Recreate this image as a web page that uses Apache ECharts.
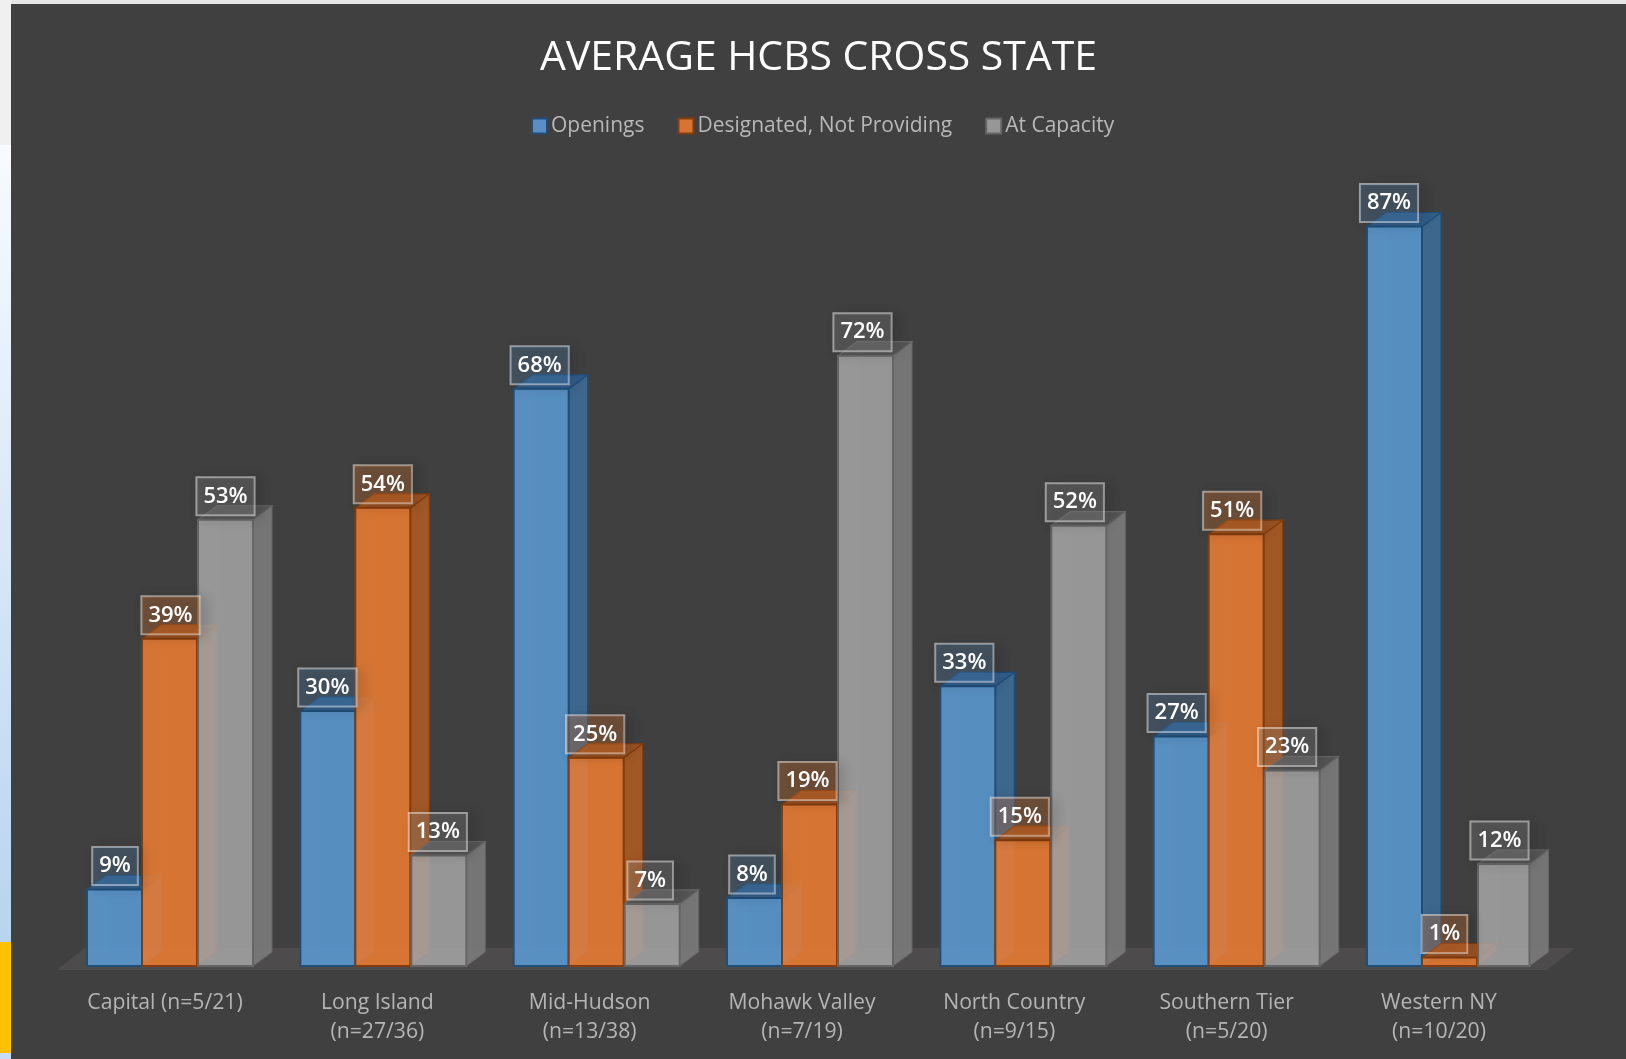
<!DOCTYPE html>
<html>
<head>
<meta charset="utf-8">
<style>html,body{margin:0;padding:0;background:#404040}#c{width:1626px;height:1059px}</style>
<script src="https://cdn.jsdelivr.net/npm/echarts@6/dist/echarts.min.js"></script>
</head>
<body>
<div id="c"></div>
<script>
var categories = ['Capital (n=5/21)', 'Long Island\n(n=27/36)', 'Mid-Hudson\n(n=13/38)', 'Mohawk Valley\n(n=7/19)', 'North Country\n(n=9/15)', 'Southern Tier\n(n=5/20)', 'Western NY\n(n=10/20)'];
var openings = [9, 30, 67.9, 8, 32.9, 27, 87];
var designated = [38.5, 53.9, 24.5, 19, 14.8, 50.8, 1];
var atCapacity = [52.5, 13, 7.3, 71.8, 51.8, 23, 12];

var FONT = '"Open Sans", sans-serif';
var BAR_W = 55, DX = 19, DY = 14, DRIFT = 1.0, LAST_TRIM = 3.5;
var looks = [
  {name: 'Openings', data: openings, front: 'rgba(91,155,213,0.85)', side: 'rgba(62,108,152,0.9)', top: 'rgba(50,96,145,0.9)', line: '#1f4e79', back: 'rgba(91,155,213,0.09)', tag: 'rgba(91,155,213,0.22)', swatch: '#5b8fc4', labelX: -50, shift: 0},
  {name: 'Designated, Not Providing', data: designated, front: 'rgba(237,125,49,0.85)', side: 'rgba(170,90,36,0.95)', top: 'rgba(160,84,34,0.95)', line: '#843c0c', back: 'rgba(237,125,49,0.09)', tag: 'rgba(237,125,49,0.28)', swatch: '#d87433', labelX: 5.5, shift: 0},
  {name: 'At Capacity', data: atCapacity, front: 'rgba(165,165,165,0.85)', side: 'rgba(122,122,122,0.95)', top: 'rgba(86,86,86,0.95)', line: '#666666', back: 'rgba(165,165,165,0.08)', tag: 'rgba(165,165,165,0.22)', swatch: '#979797', labelX: 60.5, shift: 1}
];

function barItem(look, s) {
  return function (params, api) {
    var i = api.value(0);
    var c = api.coord([i, api.value(1)]);
    var b = api.coord([i, 0]);
    var x = c[0] + 4.5 + i * DRIFT - BAR_W * 1.5 + BAR_W * s + look.shift;
    var t = c[1], y0 = b[1];
    var w = BAR_W - (s === 2 && i === 6 ? LAST_TRIM : 0);
    return {
      type: 'group',
      children: [
        {type: 'rect', shape: {x: x + DX, y: t - DY, width: w, height: y0 - t}, style: {fill: look.back, stroke: look.back, lineWidth: 1}},
        {type: 'polygon', shape: {points: [[x, t], [x + DX, t - DY], [x + DX, y0 - DY], [x, y0]]}, style: {fill: 'rgba(255,255,255,0.05)'}},
        {type: 'polygon', shape: {points: [[x, y0], [x + w, y0], [x + w + DX, y0 - DY], [x + DX, y0 - DY]]}, style: {fill: look.back}},
        {type: 'polygon', shape: {points: [[x + w, t], [x + w + DX, t - DY], [x + w + DX, y0 - DY], [x + w, y0]]}, style: {fill: look.side, stroke: look.line, lineWidth: s === 2 ? 1 : 1.2, opacity: 0.95}},
        {type: 'polygon', shape: {points: [[x, t], [x + DX, t - DY], [x + w + DX, t - DY], [x + w, t]]}, style: {fill: look.top, stroke: look.line, lineWidth: 1.2}},
        {type: 'rect', shape: {x: x, y: t, width: w, height: y0 - t}, style: {fill: look.front, stroke: look.line, lineWidth: 2}}
      ]
    };
  };
}

function labelItem(look) {
  return function (params, api) {
    var i = api.value(0);
    var c = api.coord([i, api.value(1)]);
    return {
      type: 'text',
      style: {
        x: c[0] + look.labelX, y: c[1] - 4.5,
        text: Math.round(api.value(1)) + '%',
        align: 'center', verticalAlign: 'bottom',
        fill: '#ffffff', fontFamily: FONT, fontWeight: 600, fontSize: 22, lineHeight: 24,
        backgroundColor: look.tag, borderColor: 'rgba(255,255,255,0.5)', borderWidth: 1,
        padding: [7, 7, 7, 7],
        shadowColor: 'rgba(0,0,0,0.42)', shadowBlur: 12, shadowOffsetX: 5, shadowOffsetY: 2
      }
    };
  };
}

function rows(values) {
  return values.map(function (v, i) { return [i, v]; });
}

var series = [{
  type: 'custom', name: 'floor', silent: true, z: 1, clip: false,
  data: [[0, 0]], encode: {x: 0, y: 1},
  renderItem: function (params) {
    var g = params.coordSys;
    var yb = g.y + g.height + 4;
    var l = g.x - 2, r = g.x + g.width + 2;
    return {type: 'polygon', shape: {points: [[l, yb], [r, yb], [r + 28, yb - 22], [l + 28, yb - 22]]}, style: {fill: '#4d4b4b'}};
  }
}];
looks.forEach(function (look, s) {
  series.push({
    type: 'custom', name: look.name, z: 2 + s, clip: false, silent: true,
    itemStyle: {color: look.swatch, borderColor: look.line, borderWidth: 2},
    data: rows(look.data), encode: {x: 0, y: 1},
    renderItem: barItem(look, s)
  });
});
looks.forEach(function (look) {
  series.push({
    type: 'custom', name: look.name + ' labels', z: 20, clip: false, silent: true,
    data: rows(look.data), encode: {x: 0, y: 1},
    renderItem: labelItem(look)
  });
});

var chart = echarts.init(document.getElementById('c'), null, {renderer: 'canvas'});
chart.setOption({
  animation: false,
  backgroundColor: '#404040',
  title: {
    text: 'AVERAGE HCBS CROSS STATE', left: 813.5, textAlign: 'center', top: 33,
    textStyle: {color: '#ffffff', fontFamily: FONT, fontWeight: 400, fontSize: 40.9}
  },
  legend: {
    top: 110.5, left: 526, itemWidth: 15, itemHeight: 15, itemGap: 33,
    textStyle: {color: '#b8b8b8', fontFamily: FONT, fontSize: 21, padding: [0, 0, 0, -1]},
    data: looks.map(function (l) {
      return {name: l.name, icon: 'rect', itemStyle: {color: l.swatch, borderColor: l.line, borderWidth: 2}};
    })
  },
  grid: {left: 58.85, width: 1486.3, top: 116, bottom: 93},
  xAxis: {
    type: 'category', data: categories,
    axisLine: {show: false}, axisTick: {show: false},
    axisLabel: {color: '#b5b5b5', fontFamily: FONT, fontSize: 21.2, lineHeight: 29, margin: 22, interval: 0}
  },
  yAxis: {type: 'value', min: 0, max: 100, show: false},
  graphic: [
    {type: 'rect', z: 100, shape: {x: 0, y: 0, width: 1626, height: 4}, style: {fill: '#e6e6e6'}},
    {type: 'rect', z: 100, shape: {x: 0, y: 0, width: 11, height: 145}, style: {fill: '#f0f0f0'}},
    {type: 'rect', z: 100, shape: {x: 0, y: 145, width: 11, height: 797}, style: {fill: new echarts.graphic.LinearGradient(0, 0, 0, 1, [{offset: 0, color: '#f8fbff'}, {offset: 1, color: '#b7d4ee'}])}},
    {type: 'rect', z: 100, shape: {x: 0, y: 942, width: 11, height: 111}, style: {fill: '#ffc000'}},
    {type: 'rect', z: 100, shape: {x: 0, y: 1053, width: 11, height: 6}, style: {fill: '#c5dcf2'}}
  ],
  series: series
});
</script>
</body>
</html>
